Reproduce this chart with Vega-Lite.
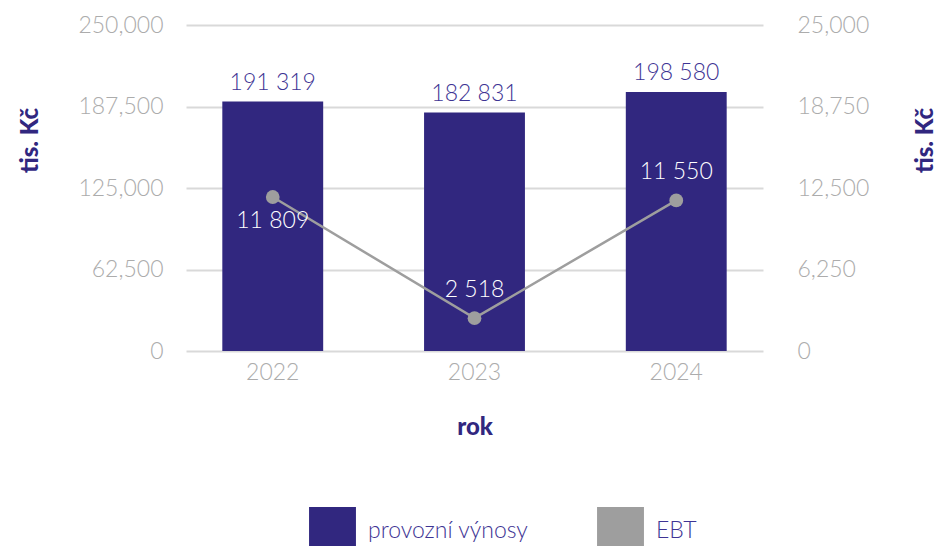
{
  "$schema": "https://vega.github.io/schema/vega-lite/v6.json",
  "width": 577,
  "height": 326,
  "autosize": "none",
  "padding": {"left": 186, "top": 25, "right": 175, "bottom": 195},
  "config": {
    "locale": {"number": {"decimal": ".", "thousands": " ", "grouping": [3], "currency": ["", ""]}},
    "view": {"stroke": null},
    "font": "Lato",
    "axis": {"labelFont": "Lato", "labelFontWeight": 300, "labelColor": "#acacac", "labelFontSize": 23, "titleFont": "Lato", "titleFontWeight": 900, "titleColor": "#31277f", "titleFontSize": 24, "ticks": false, "tickSize": 0, "domain": false, "gridColor": "#d9d9d9", "gridWidth": 2}
  },
  "data": {"values": [
    {"rok": "2022", "vynosy": 191319, "ebt": 11809},
    {"rok": "2023", "vynosy": 182831, "ebt": 2518},
    {"rok": "2024", "vynosy": 198580, "ebt": 11550}
  ]},
  "encoding": {
    "x": {"field": "rok", "type": "ordinal", "scale": {"paddingInner": 0.5, "paddingOuter": 0.18},
      "axis": {"title": "rok", "labelAngle": 0, "labelPadding": 21, "labelBaseline": "middle", "titleY": 76, "titleBaseline": "middle", "grid": false}}
  },
  "layer": [
    {
      "encoding": {
        "y": {"field": "vynosy", "type": "quantitative", "scale": {"domain": [0, 250000]},
          "axis": {"orient": "left", "values": [0, 62500, 125000, 187500, 250000], "format": ",d", "labelExpr": "replace(datum.label, ' ', ',')", "labelPadding": 23, "grid": true, "title": "tis. Kč", "titleX": -156, "titleY": 115, "titleAngle": 270, "titleBaseline": "middle", "titleAlign": "center"}}
      },
      "layer": [
        {"mark": {"type": "bar"},
          "encoding": {"color": {"datum": "provozní výnosy", "type": "nominal",
            "scale": {"domain": ["provozní výnosy", "EBT"], "range": ["#31277f", "#9e9e9e"]},
            "legend": {"orient": "none", "legendX": 123, "legendY": 482, "direction": "horizontal", "title": null, "padding": 0,
              "symbolType": "square", "symbolSize": 2200, "symbolStrokeWidth": 0, "symbolOpacity": 1,
              "labelFont": "Lato", "labelFontWeight": 300, "labelFontSize": 23, "labelColor": "#3e3494", "labelOffset": 12, "columnPadding": 68, "labelLimit": 400,
              "encode": {"symbols": {"update": {"fill": {"scale": "color", "field": "value"}, "stroke": {"value": "transparent"}, "shape": {"value": "square"}}}}}}}},
        {"mark": {"type": "text", "baseline": "bottom", "dy": -7, "fontSize": 23, "fontWeight": 300, "color": "#3e3494"},
          "encoding": {"text": {"field": "vynosy", "type": "quantitative", "format": ",d"}}}
      ]
    },
    {
      "encoding": {
        "y": {"field": "ebt", "type": "quantitative", "scale": {"domain": [0, 25000]},
          "axis": {"orient": "right", "values": [0, 6250, 12500, 18750, 25000], "format": ",d", "labelExpr": "replace(datum.label, ' ', ',')", "labelPadding": 34, "grid": false, "title": "tis. Kč", "titleX": 162, "titleY": 115, "titleAngle": 270, "titleBaseline": "middle", "titleAlign": "center"}}
      },
      "layer": [
        {"mark": {"type": "line", "strokeWidth": 2.5}, "encoding": {"color": {"datum": "EBT", "type": "nominal"}}},
        {"mark": {"type": "point", "filled": true, "size": 190, "opacity": 1}, "encoding": {"color": {"datum": "EBT", "type": "nominal"}}},
        {"transform": [{"filter": "datum.rok == '2022'"}],
          "mark": {"type": "text", "baseline": "middle", "dy": 24, "fontSize": 23, "fontWeight": 300, "color": "#ffffff"},
          "encoding": {"text": {"field": "ebt", "type": "quantitative", "format": ",d"}}},
        {"transform": [{"filter": "datum.rok != '2022'"}],
          "mark": {"type": "text", "baseline": "middle", "dy": -28, "fontSize": 23, "fontWeight": 300, "color": "#ffffff"},
          "encoding": {"text": {"field": "ebt", "type": "quantitative", "format": ",d"}}}
      ]
    }
  ],
  "resolve": {"scale": {"y": "independent"}}
}
